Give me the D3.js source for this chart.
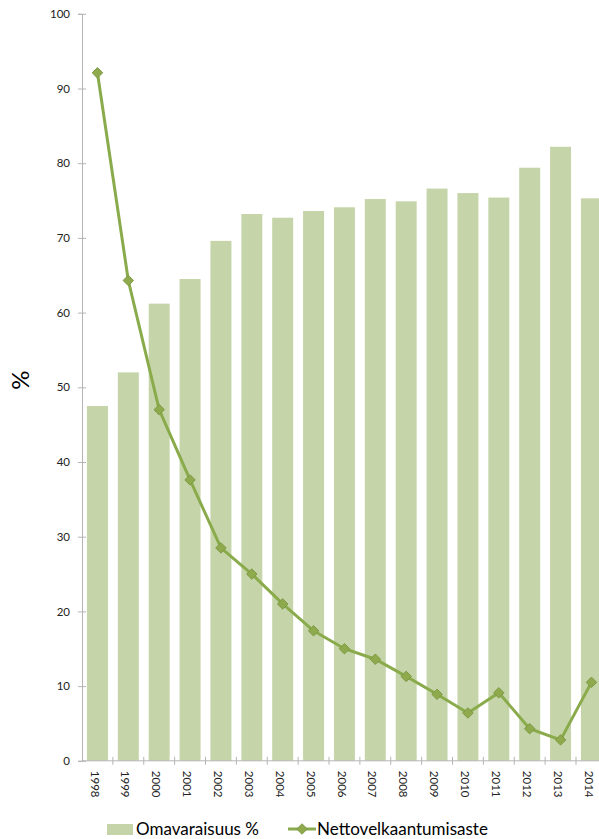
<!DOCTYPE html>
<html><head><meta charset="utf-8">
<script src="https://cdn.jsdelivr.net/npm/d3@7"></script>
<style>body{margin:0;background:#fff}svg{display:block}</style>
</head><body>
<script>
const years = ["1998","1999","2000","2001","2002","2003","2004","2005","2006","2007","2008","2009","2010","2011","2012","2013","2014"];
const omavaraisuus = [47.5,52.0,61.2,64.5,69.6,73.2,72.7,73.6,74.1,75.2,74.9,76.6,76.0,75.4,79.4,82.2,75.3];
const nettovelka = [92.1,64.3,47.0,37.6,28.5,25.0,21.0,17.4,15.0,13.6,11.3,8.9,6.4,9.1,4.3,2.8,10.5];
const yTicks = [0,10,20,30,40,50,60,70,80,90,100];
const seriesNames = ["Omavaraisuus %","Nettovelkaantumisaste"];
const yLabel = "%";

const W = 599, H = 839;
const svg = d3.select("body").append("svg").attr("width", W).attr("height", H);
const font = "Lato, 'Open Sans', sans-serif";

const x = d3.scaleBand().domain(years).range([82, 82 + 17*30.875]).paddingInner(0.32).paddingOuter(0.16);
const y = d3.scaleLinear().domain([0,100]).range([760.8, 13.8]);

const barColor = "#c6d5a9", lineColor = "#8aab4c", axisColor = "#b5b5b5";

// bars
svg.append("g").selectAll("rect").data(years).join("rect")
  .attr("x", d => x(d)).attr("width", x.bandwidth())
  .attr("y", (d,i) => y(omavaraisuus[i]))
  .attr("height", (d,i) => y(0) - y(omavaraisuus[i]))
  .attr("fill", barColor);

// y axis
const gy = svg.append("g").attr("transform", "translate(82,0)")
  .call(d3.axisLeft(y).tickValues(yTicks).tickSize(4).tickPadding(8));
gy.select(".domain").attr("stroke", axisColor);
gy.selectAll(".tick line").attr("stroke", axisColor).attr("x2", 4).attr("x1", -4);
gy.selectAll(".tick text").attr("font-family", font).attr("font-size", 11.5).attr("fill", "#222").attr("x", -12);

// x axis
const step = x.step();
svg.append("line").attr("x1", 82).attr("x2", W).attr("y1", y(0)).attr("y2", y(0)).attr("stroke", axisColor);
svg.append("g").selectAll("line").data(years.slice(1)).join("line")
  .attr("x1", d => x(d) - step*0.16).attr("x2", d => x(d) - step*0.16)
  .attr("y1", y(0) - 4).attr("y2", y(0) + 4).attr("stroke", axisColor);
svg.append("g").selectAll("text").data(years).join("text")
  .attr("transform", d => `translate(${x(d) + x.bandwidth()/2 - 4},${y(0) + 10}) rotate(90)`)
  .attr("font-family", font).attr("font-size", 11.5).attr("fill", "#222")
  .attr("dominant-baseline", "middle")
  .text(d => d);

// line
const line = d3.line().x((d,i) => x(years[i]) + x.bandwidth()/2).y(d => y(d));
svg.append("path").datum(nettovelka).attr("d", line)
  .attr("fill", "none").attr("stroke", lineColor).attr("stroke-width", 3);
const sym = d3.symbol().type(d3.symbolDiamond2).size(70);
svg.append("g").selectAll("path").data(nettovelka).join("path")
  .attr("transform", (d,i) => `translate(${x(years[i]) + x.bandwidth()/2},${y(d)})`)
  .attr("d", sym).attr("fill", "#8eaa4d").attr("stroke", "#7d9a44").attr("stroke-width", 1);

// y label
svg.append("text").attr("transform", "translate(29,380) rotate(-90)")
  .attr("text-anchor", "middle").attr("font-family", font).attr("font-size", 24).attr("fill", "#000")
  .text(yLabel);

// legend
const lg = svg.append("g");
lg.append("rect").attr("x", 107).attr("y", 824).attr("width", 26).attr("height", 11).attr("fill", barColor);
lg.append("text").attr("x", 136).attr("y", 835).attr("font-family", font).attr("font-size", 17).attr("fill", "#000").text(seriesNames[0]);
lg.append("line").attr("x1", 288).attr("x2", 316).attr("y1", 829).attr("y2", 829).attr("stroke", lineColor).attr("stroke-width", 3);
lg.append("path").attr("transform", "translate(302,829)").attr("d", sym).attr("fill", "#8eaa4d").attr("stroke", "#7d9a44");
lg.append("text").attr("x", 317).attr("y", 835).attr("font-family", font).attr("font-size", 17).attr("fill", "#000").text(seriesNames[1]);
</script>
</body></html>
